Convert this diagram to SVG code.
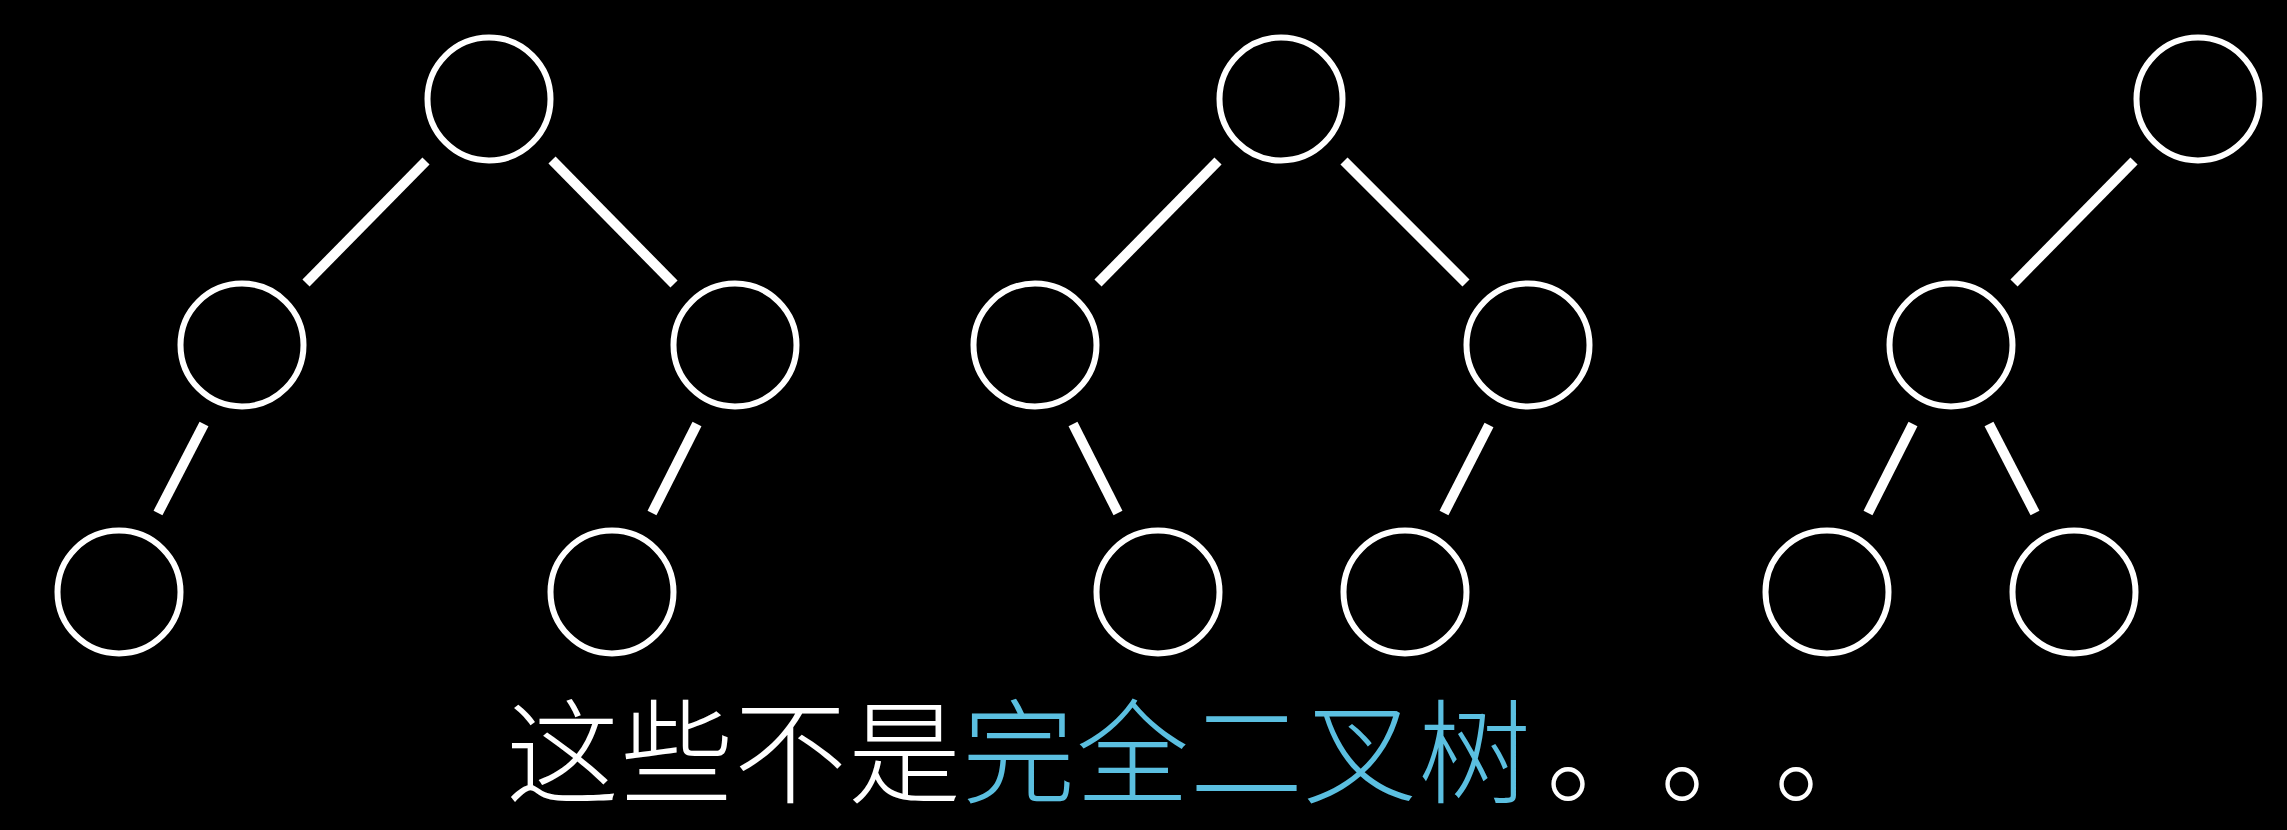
<svg xmlns="http://www.w3.org/2000/svg" width="2287" height="830" viewBox="0 0 2287 830">
<style>
.node{fill:none;stroke:#ffffff;stroke-width:6}
.edge{stroke:#ffffff;stroke-width:10;stroke-linecap:butt}
.cap{font-family:"Noto Sans CJK SC","Noto Sans",sans-serif;font-size:113px;font-weight:300;fill:#ffffff}
.hl{fill:#5bbfe0}
</style>
<rect width="2287" height="830" fill="#000000"/>
<g id="connectors">
<line class="edge" x1="426" y1="161" x2="306" y2="283"/>
<line class="edge" x1="552" y1="160" x2="674" y2="284"/>
<line class="edge" x1="204" y1="424" x2="158" y2="513"/>
<line class="edge" x1="697" y1="424" x2="652" y2="513"/>
<line class="edge" x1="1218" y1="161" x2="1098" y2="283"/>
<line class="edge" x1="1344" y1="161" x2="1466" y2="283"/>
<line class="edge" x1="1073" y1="424" x2="1118" y2="513"/>
<line class="edge" x1="1489" y1="425" x2="1444" y2="513"/>
<line class="edge" x1="2134" y1="161" x2="2014" y2="283"/>
<line class="edge" x1="1913" y1="424" x2="1868" y2="513"/>
<line class="edge" x1="1989" y1="424" x2="2035" y2="513"/>
</g>
<g id="t1-root"><circle class="node" cx="489" cy="99" r="61.5"/></g>
<g id="t1-left"><circle class="node" cx="242" cy="345" r="61.5"/></g>
<g id="t1-right"><circle class="node" cx="735" cy="345" r="61.5"/></g>
<g id="t1-left-left"><circle class="node" cx="119" cy="592" r="61.5"/></g>
<g id="t1-right-left"><circle class="node" cx="612" cy="592" r="61.5"/></g>
<g id="t2-root"><circle class="node" cx="1281" cy="99" r="61.5"/></g>
<g id="t2-left"><circle class="node" cx="1035" cy="345" r="61.5"/></g>
<g id="t2-right"><circle class="node" cx="1528" cy="345" r="61.5"/></g>
<g id="t2-left-right"><circle class="node" cx="1158" cy="592" r="61.5"/></g>
<g id="t2-right-left"><circle class="node" cx="1405" cy="592" r="61.5"/></g>
<g id="t3-root"><circle class="node" cx="2198" cy="99" r="61.5"/></g>
<g id="t3-left"><circle class="node" cx="1951" cy="345" r="61.5"/></g>
<g id="t3-left-left"><circle class="node" cx="1827" cy="592" r="61.5"/></g>
<g id="t3-left-right"><circle class="node" cx="2074" cy="592" r="61.5"/></g>
<g id="caption">
<text class="cap" y="794"><tspan x="506 620 734 848">这些不是</tspan><tspan class="hl" x="962 1076 1190 1304 1418">完全二叉树</tspan><tspan x="1546 1660 1774">。。。</tspan></text>
</g>
</svg>
